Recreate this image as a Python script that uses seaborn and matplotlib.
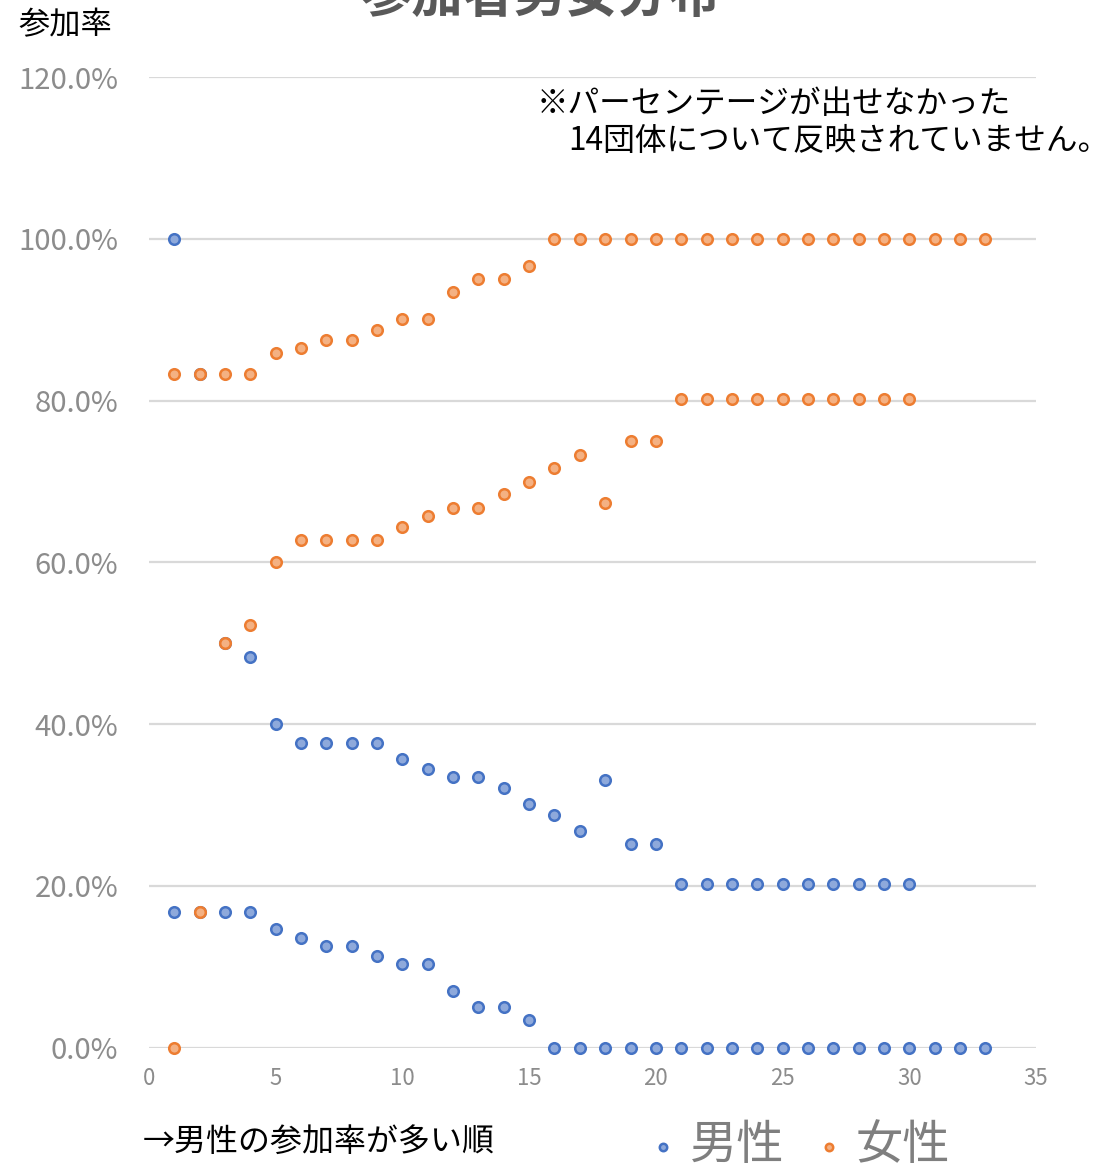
import numpy as np
import pandas as pd
import matplotlib
matplotlib.use("Agg")
import matplotlib.pyplot as plt
import seaborn as sns
from matplotlib.ticker import FuncFormatter, MultipleLocator

# ---- data (percent) ----
x_a = list(range(1, 31))
male_a = [100.0, 83.3, 50.0, 48.3, 40.0, 37.7, 37.7, 37.7, 37.7, 35.7,
          34.4, 33.4, 33.4, 32.1, 30.1, 28.8, 26.8, 33.1, 25.2, 25.2,
          20.2, 20.2, 20.2, 20.2, 20.2, 20.2, 20.2, 20.2, 20.2, 20.2]
female_a = [0.0, 16.7, 50.0, 52.2, 60.1, 62.8, 62.8, 62.8, 62.8, 64.4,
            65.7, 66.7, 66.7, 68.4, 70.0, 71.7, 73.3, 67.4, 75.0, 75.0,
            80.2, 80.2, 80.2, 80.2, 80.2, 80.2, 80.2, 80.2, 80.2, 80.2]
x_b = list(range(1, 34))
male_b = [16.7, 16.7, 16.7, 16.7, 14.6, 13.6, 12.6, 12.6, 11.3, 10.3,
          10.3, 7.0, 5.0, 5.0, 3.4, 0.0, 0.0, 0.0, 0.0, 0.0,
          0.0, 0.0, 0.0, 0.0, 0.0, 0.0, 0.0, 0.0, 0.0, 0.0,
          0.0, 0.0, 0.0]
female_b = [83.3, 83.3, 83.3, 83.3, 85.9, 86.5, 87.5, 87.5, 88.8, 90.1,
            90.1, 93.4, 95.1, 95.1, 96.7, 100.0, 100.0, 100.0, 100.0, 100.0,
            100.0, 100.0, 100.0, 100.0, 100.0, 100.0, 100.0, 100.0, 100.0, 100.0,
            100.0, 100.0, 100.0]
series_labels = ["男性", "女性"]
x_ticks = [0, 5, 10, 15, 20, 25, 30, 35]

male_df = pd.DataFrame({"rank": x_a + x_b, "rate": male_a + male_b})
female_df = pd.DataFrame({"rank": x_a + x_b, "rate": female_a + female_b})

sns.set_theme(style="white")
plt.rcParams["font.family"] = ["Noto Sans CJK JP", "DejaVu Sans"]

fig = plt.figure(figsize=(10.99, 11.69), dpi=100)
ax = fig.add_axes([149 / 1099, 1 - 1047.5 / 1169, 887 / 1099, 970.2 / 1169])

blue_edge, blue_face = "#4472C4", "#8EA9DB"
orange_edge, orange_face = "#ED7D31", "#F4B183"

sns.scatterplot(data=male_df, x="rank", y="rate", ax=ax, color=blue_face,
                edgecolor=blue_edge, linewidth=1.8, s=58, label=series_labels[0],
                clip_on=False, zorder=3)
sns.scatterplot(data=female_df, x="rank", y="rate", ax=ax, color=orange_face,
                edgecolor=orange_edge, linewidth=1.8, s=58, label=series_labels[1],
                clip_on=False, zorder=4)

ax.set_xlim(0, 35)
ax.set_ylim(0, 120)
ax.set_xticks(x_ticks)
ax.yaxis.set_major_locator(MultipleLocator(20))
ax.yaxis.set_major_formatter(FuncFormatter(lambda v, p: f"{v:.1f}%"))
ax.grid(axis="y", color="#D9D9D9", linewidth=1.6)
ax.grid(axis="x", visible=False)
ax.set_axisbelow(True)
for sp in ax.spines.values():
    sp.set_visible(False)
ax.set_xlabel("")
ax.set_ylabel("")
ax.tick_params(axis="x", length=0, pad=14, labelsize=16, labelcolor="#8C8C8C")
ax.tick_params(axis="y", length=0, pad=22, labelsize=21, labelcolor="#8C8C8C")

handles, labels = ax.get_legend_handles_labels()
ax.get_legend().remove()
fig.legend(handles, labels, loc="center", bbox_to_anchor=(796 / 1099, 1 - 1146 / 1169),
           ncol=2, frameon=False, fontsize=34, markerscale=0.7, handletextpad=0.12,
           columnspacing=0.5, labelcolor="#7F7F7F", handlelength=0.9)

fig.text(540 / 1099, 1 + 4 / 1169, "参加者男女分布", ha="center", va="center",
         fontsize=37, fontweight="bold", color="#595959")
fig.text(18 / 1099, 1 - 25 / 1169, "参加率", ha="left", va="center",
         fontsize=22.5, color="#000000")
fig.text(537 / 1099, 1 - 104 / 1169, "※パーセンテージが出せなかった", ha="left",
         va="center", fontsize=22.8, color="#000000")
fig.text(568 / 1099, 1 - 141 / 1169, "14団体について反映されていません。", ha="left",
         va="center", fontsize=22.8, color="#000000")
fig.text(143 / 1099, 1 - 1142 / 1169, "→男性の参加率が多い順", ha="left",
         va="center", fontsize=23, color="#000000")

fig.savefig("out.png", dpi=100)
